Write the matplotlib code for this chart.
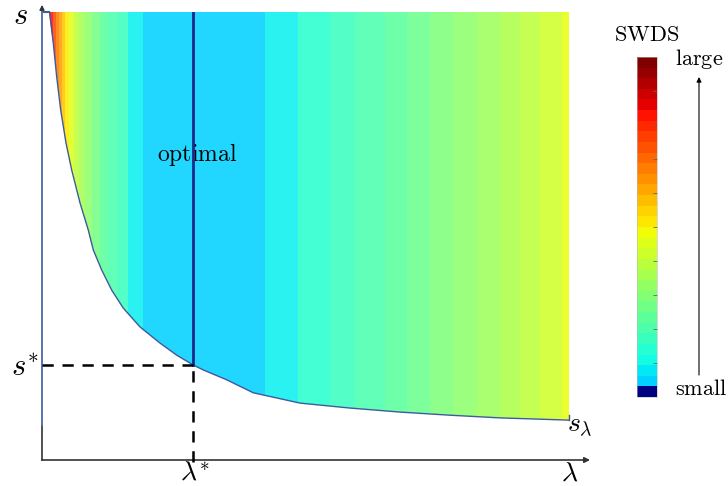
import numpy as np
import matplotlib
matplotlib.use("Agg")
import matplotlib.pyplot as plt
from matplotlib.colors import ListedColormap, Normalize
from matplotlib.patches import Polygon
from matplotlib.cm import ScalarMappable

plt.rcParams['mathtext.fontset'] = 'cm'

# ---- data (normalised lambda / s coordinates) ----
curve_lam = [0.0142, 0.0214, 0.0279, 0.0355, 0.0455, 0.0564, 0.0721, 0.0879,
             0.0973, 0.1133, 0.1323, 0.1543, 0.1860, 0.2239, 0.2556, 0.2871,
             0.3061, 0.3505, 0.4010, 0.4896, 0.584, 0.679, 0.774, 0.869, 1.0]
curve_s = [1.0, 0.931, 0.855, 0.781, 0.708, 0.647, 0.574, 0.513,
           0.469, 0.424, 0.379, 0.339, 0.297, 0.261, 0.234, 0.212,
           0.201, 0.179, 0.150, 0.127, 0.116, 0.107, 0.100, 0.094, 0.089]

stripe_edges = [0.0, 0.021, 0.027, 0.032, 0.038, 0.044, 0.051, 0.061, 0.070,
                0.082, 0.095, 0.110, 0.125, 0.144, 0.163, 0.192, 0.423, 0.486,
                0.547, 0.594, 0.651, 0.693, 0.736, 0.780, 0.825, 0.869, 0.907,
                0.945, 0.987, 1.0]
stripe_swds = [0.89, 0.83, 0.78, 0.74, 0.70, 0.66, 0.62, 0.58, 0.55, 0.52,
               0.49, 0.46, 0.44, 0.42, 0.36, 0.33, 0.36, 0.40, 0.42, 0.44,
               0.46, 0.48, 0.50, 0.52, 0.54, 0.56, 0.58, 0.60, 0.63]

lam_opt = 0.2871
s_opt = 0.212
s_left_end = 0.078

cbar_ticks = [0.1, 0.2, 0.3, 0.4, 0.5, 0.6, 0.7, 0.8, 0.9]

W, H = 728, 486
fig = plt.figure(figsize=(W / 100, H / 100), dpi=100)
ax = fig.add_axes([42 / W, (H - 460) / H, 527 / W, 448 / H])
ax.set_xlim(0, 1)
ax.set_ylim(0, 1)
ax.axis('off')

jet = plt.get_cmap('jet')

# coloured field clipped by region above the curve
mesh = ax.pcolormesh(stripe_edges, [0, 1], np.array(stripe_swds)[None, :],
                     cmap=jet, vmin=0, vmax=1, alpha=0.87, shading='flat',
                     antialiased=False, linewidth=0)
poly_pts = list(zip(curve_lam, curve_s)) + [(1.0, 1.0)]
clip = Polygon(poly_pts, closed=True, transform=ax.transData,
               facecolor='none', edgecolor='none')
ax.add_patch(clip)
mesh.set_clip_path(clip)

# boundary curve
ax.plot(curve_lam, curve_s, color='#3d5a9e', lw=1.0, clip_on=False)
ax.plot([0, 0], [s_left_end, 1.0], color='#5a78b8', lw=1.3, clip_on=False, zorder=5)
ax.plot([0, curve_lam[0]], [1.0, 1.0], color='#3d5a9e', lw=1.5, clip_on=False)
ax.plot([curve_lam[-1], curve_lam[-1]], [curve_s[-1], curve_s[-1] + 0.012],
        color='#3d5a9e', lw=1.0, clip_on=False)

# optimal line
ax.plot([lam_opt, lam_opt], [s_opt, 1.0], color='#1a2a8a', lw=2.0, zorder=6)
ax.plot([0, lam_opt], [s_opt, s_opt], color='black', lw=1.8,
        dashes=(4.5, 3.5), clip_on=False, zorder=6)
ax.plot([lam_opt, lam_opt], [-0.005, s_opt], color='black', lw=1.8,
        dashes=(4.5, 3.5), clip_on=False, zorder=6)

# axes arrows
ax.plot([0, 0], [0, s_left_end], color='#333333', lw=1.2, clip_on=False)
ax.annotate('', xy=(1.04, 0), xytext=(0, 0), annotation_clip=False,
            arrowprops=dict(arrowstyle='-|>', color='#333333', lw=1.2,
                            mutation_scale=8, shrinkA=0, shrinkB=0))
ax.annotate('', xy=(0, 1.016), xytext=(0, s_left_end), annotation_clip=False,
            arrowprops=dict(arrowstyle='-|>', color='#333333', lw=1.0,
                            mutation_scale=7, shrinkA=0, shrinkB=0))

# labels
def px(xp, yp):
    return (xp - 42) / 527, (460 - yp) / 448

ax.text(*px(20, 24), r'$s$', fontsize=22, ha='center', va='baseline', clip_on=False)
ax.text(*px(39, 375), r'$s^{\!*}$', fontsize=22, ha='right', va='baseline', clip_on=False)
ax.text(*px(195, 481), r'$\lambda^{\!*}$', fontsize=20, ha='center', va='baseline', clip_on=False)
ax.text(*px(570, 481), r'$\lambda$', fontsize=20, ha='center', va='baseline', clip_on=False)
ax.text(*px(567, 432), r'$s_\lambda$', fontsize=20, ha='left', va='baseline', clip_on=False)
ax.text(*px(197, 161), r'$\mathrm{optimal}$', fontsize=17, ha='center', va='baseline')

# colorbar
cb_colors = [jet(0.0)] + [jet(v) for v in np.linspace(0.33, 1.0, 31)]
cb_cmap = ListedColormap(cb_colors)
cax = fig.add_axes([637 / W, (H - 397) / H, 20 / W, 340 / H])
cb = fig.colorbar(ScalarMappable(norm=Normalize(0, 1), cmap=cb_cmap), cax=cax)
cb.set_ticks(cbar_ticks)
cb.set_ticklabels([''] * len(cbar_ticks))
cax.tick_params(direction='in', length=3, width=0.6, color='#666666')
cb.outline.set_linewidth(0.4)
cb.outline.set_edgecolor('#bbbbbb')

fig.text(647 / W, 1 - 41 / H, r'$\mathrm{SWDS}$', fontsize=16, ha='center', va='baseline')
fig.text(675 / W, 1 - 65 / H, r'$\mathrm{large}$', fontsize=16, ha='left', va='baseline')
fig.text(675 / W, 1 - 395 / H, r'$\mathrm{small}$', fontsize=16, ha='left', va='baseline')
ax.annotate('', xy=(699, H - 77), xytext=(699, H - 375), xycoords='figure pixels',
            textcoords='figure pixels', annotation_clip=False,
            arrowprops=dict(arrowstyle='-|>', color='black', lw=0.8,
                            mutation_scale=7, shrinkA=0, shrinkB=0))

fig.savefig('out.png', dpi=100)
